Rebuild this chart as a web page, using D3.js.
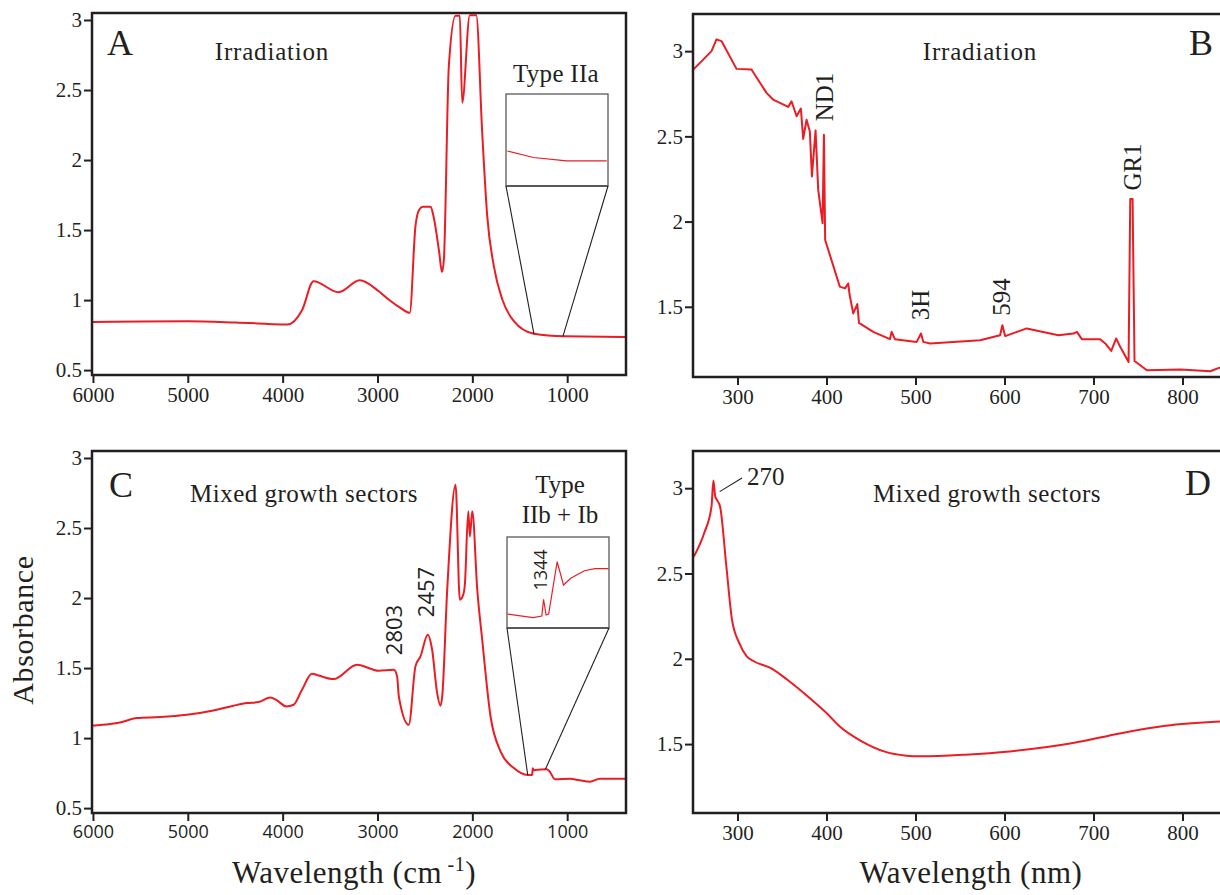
<!DOCTYPE html>
<html>
<head>
<meta charset="utf-8">
<script src="https://cdn.jsdelivr.net/npm/d3@7"></script>
<style>
body { margin: 0; background: #fff; }
svg text { fill: #231f20; }
</style>
</head>
<body>
<svg id="fig" width="1220" height="895"></svg>
<script>
// ---- data ----
// A: irradiated type IIa, IR
let aWavenumber = [6010, 5500, 5000, 4500, 4000, 3950, 3796, 3674, 3410, 3188, 2987, 2882, 2758, 2660,
    2600, 2560, 2520, 2440, 2410, 2350, 2320, 2300, 2248, 2177, 2132, 2107, 2027, 1959, 1896, 1843,
    1773, 1684, 1562, 1350, 1034, 390];
let aAbsorbance = [0.844, 0.847, 0.849, 0.84, 0.826, 0.825, 0.927, 1.134, 1.056, 1.141, 1.063, 1.004, 0.944, 0.909,
    1.527, 1.645, 1.666, 1.666, 1.6, 1.345, 1.2, 1.29, 2.67, 3.03, 3.03, 2.409, 3.034, 3.034, 2.194, 1.599,
    1.241, 1.004, 0.849, 0.759, 0.741, 0.737];
let aInsetWavenumber = [1346, 1264, 1160, 1034];
let aInsetAbsorbance = [0.7414, 0.7393, 0.7382, 0.7382];

// B: irradiated, UV-Vis
let bWavelength = [250, 259.5, 270.8, 276.4, 282, 298.9, 315.7, 332.6, 340, 357, 360.7, 366.4, 371.2, 373.8,
    377.6, 381.3, 383.6, 387.7, 390.7, 395.6, 397.1, 398.5, 415, 420.7, 424.4, 426, 430, 434.6, 436.5,
    452.5, 471.3, 473.2, 476.9, 501.3, 506.2, 508.8, 516.3, 572.6, 595, 597.6, 600.7, 625, 660.6, 677.5,
    681.3, 686.9, 707.5, 713.2, 719.9, 725.5, 730, 739.4, 741.3, 743.9, 746.1, 760, 797.6, 831.3, 850];
let bAbsorbance = [2.89, 2.94, 3.0, 3.069, 3.059, 2.896, 2.892, 2.755, 2.716, 2.673, 2.706, 2.618, 2.663, 2.485,
    2.598, 2.529, 2.265, 2.535, 2.186, 1.99, 2.51, 1.892, 1.618, 1.608, 1.637, 1.569, 1.461, 1.516, 1.406,
    1.353, 1.31, 1.353, 1.31, 1.294, 1.343, 1.294, 1.285, 1.304, 1.333, 1.392, 1.328, 1.373, 1.333, 1.343,
    1.353, 1.31, 1.31, 1.285, 1.241, 1.314, 1.265, 1.176, 2.132, 2.132, 1.182, 1.128, 1.132, 1.122, 1.16];

// C: mixed growth sectors, IR
let cWavenumber = [6014, 5820, 5715, 5539, 5293, 5011, 4730, 4519, 4377, 4254, 4131, 4060, 3962, 3885, 3796,
    3691, 3621, 3463, 3215, 2987, 2828, 2793, 2775, 2670, 2600, 2547, 2470, 2424, 2371, 2336, 2318, 2265,
    2177, 2132, 2096, 2079, 2043, 2026, 2001, 1948, 1896, 1808, 1702, 1562, 1416, 1370, 1363, 1350, 1339,
    1216, 1189, 1129, 970, 870, 760, 654, 390];
let cAbsorbance = [1.088, 1.1, 1.111, 1.143, 1.15, 1.166, 1.197, 1.231, 1.25, 1.257, 1.29, 1.269, 1.226, 1.238, 1.345,
    1.459, 1.447, 1.421, 1.524, 1.481, 1.488, 1.44, 1.297, 1.095, 1.512, 1.583, 1.738, 1.631, 1.321, 1.231, 1.295, 2.059,
    2.809, 1.988, 2.024, 2.095, 2.619, 2.44, 2.619, 2.059, 1.702, 1.154, 0.904, 0.786, 0.736, 0.736, 0.784, 0.77, 0.772,
    0.777, 0.765, 0.706, 0.709, 0.699, 0.689, 0.71, 0.71];
let cInsetWavenumber = [1419, 1359, 1338, 1334, 1328, 1322, 1302, 1287, 1270, 1238, 1213, 1181];
let cInsetAbsorbance = [0.7265, 0.7235, 0.7249, 0.7387, 0.7257, 0.7265, 0.7696, 0.7504, 0.756, 0.7622, 0.7639, 0.7639];

// D: mixed growth sectors, UV-Vis
let dWavelength = [251, 262.5, 270.8, 272.9, 275, 277, 280.4, 287.5, 293.8, 302, 310.4, 318.8, 337.5, 356, 381,
    402, 414.6, 439.6, 464.6, 489.6, 506, 556, 606, 677, 731, 781, 850];
let dAbsorbance = [2.6, 2.736, 2.893, 3.045, 2.951, 2.93, 2.893, 2.541, 2.229, 2.092, 2.014, 1.984, 1.945, 1.877, 1.77,
    1.672, 1.604, 1.516, 1.457, 1.432, 1.428, 1.438, 1.457, 1.506, 1.564, 1.607, 1.634];

let irTicks = [6000, 5000, 4000, 3000, 2000, 1000];
let nmTicks = [300, 400, 500, 600, 700, 800];
let irAbsTicks = [0.5, 1, 1.5, 2, 2.5, 3];
let uvAbsTicks = [1.5, 2, 2.5, 3];

const SERIF = '"Liberation Serif", "Times New Roman", serif',
      SANS = '"Open Sans", "Noto Sans", sans-serif',
      INK = '#231f20',
      RED = '#ea1c24';

let svg = d3.select('#fig');

function zip(xs, ys) {
    return xs.map((d, i) => ({ x: d, y: ys[i] }));
}

function panel(o) {
    let x = d3.scaleLinear().domain(o.xDomain).range([o.left, o.right]);
    let y = d3.scaleLinear().domain(o.yDomain).range([o.bottom, o.top]);
    let g = svg.append('g');

    let xAxis = g.append('g')
	.attr('transform', 'translate(0,' + o.bottom + ')')
	.call(d3.axisBottom(x).tickValues(o.xTicks).tickSize(8).tickPadding(4).tickFormat(d3.format('d')));
    xAxis.attr('font-family', null);
    xAxis.selectAll('text')
	.style('font-family', o.xFont)
	.style('font-size', o.xFontSize + 'px');

    let yAxis = g.append('g')
	.attr('transform', 'translate(' + o.left + ',0)')
	.call(d3.axisLeft(y).tickValues(o.yTicks).tickSize(8).tickPadding(2).tickFormat((d) => String(d)));
    yAxis.attr('font-family', null);
    yAxis.selectAll('text')
	.style('font-family', SERIF)
	.style('font-size', '21px');

    g.selectAll('.domain').remove();
    g.selectAll('.tick line').attr('stroke', INK).attr('stroke-width', 2);
    g.selectAll('.tick text').style('fill', INK);

    let clipId = 'clip' + o.name;
    g.append('clipPath').attr('id', clipId)
	.append('rect')
	.attr('x', o.left).attr('y', o.top)
	.attr('width', o.right - o.left).attr('height', o.bottom - o.top);

    let line = d3.line()
	.x((d) => x(d.x))
	.y((d) => y(d.y))
	.curve(o.curve || d3.curveLinear);

    g.append('path')
	.datum(o.data)
	.attr('clip-path', 'url(#' + clipId + ')')
	.attr('fill', 'none')
	.attr('stroke', RED)
	.attr('stroke-width', 2)
	.attr('stroke-linejoin', 'round')
	.attr('d', line);

    g.append('rect')
	.attr('x', o.left).attr('y', o.top)
	.attr('width', o.right - o.left).attr('height', o.bottom - o.top)
	.attr('fill', 'none')
	.attr('stroke', INK)
	.attr('stroke-width', 2.5);

    return { g: g, x: x, y: y };
}

function label(g, txt, px, py, size, opts) {
    opts = opts || {};
    let t = g.append('text')
	.attr('font-family', opts.font || SERIF)
	.attr('font-size', size)
	.attr('text-anchor', opts.anchor || 'middle')
	.attr('letter-spacing', opts.spacing || 0)
	.text(txt);
    if (opts.rotate) {
	t.attr('dominant-baseline', 'central')
	    .attr('transform', 'translate(' + px + ',' + py + ') rotate(-90)');
    } else {
	t.attr('x', px).attr('y', py);
    }
    return t;
}

// inset: magnified box plus two leader lines down to the main curve
function inset(p, box, xDom, yDom, data, from, to) {
    let ix = d3.scaleLinear().domain(xDom).range([box.x0, box.x1]);
    let iy = d3.scaleLinear().domain(yDom).range([box.y1, box.y0]);
    let g = p.g.append('g');
    g.append('rect')
	.attr('x', box.x0).attr('y', box.y0)
	.attr('width', box.x1 - box.x0).attr('height', box.y1 - box.y0)
	.attr('fill', '#fff').attr('stroke', '#58595b').attr('stroke-width', 1.3);
    g.append('line')
	.attr('x1', box.x0).attr('x2', box.x1).attr('y1', box.y1).attr('y2', box.y1)
	.attr('stroke', '#58595b').attr('stroke-width', 2);
    g.append('path')
	.datum(data)
	.attr('fill', 'none').attr('stroke', RED).attr('stroke-width', 1.2)
	.attr('d', d3.line().x((d) => ix(d.x)).y((d) => iy(d.y)));
    [[box.x0, from], [box.x1, to]].forEach(function(l) {
	g.append('line')
	    .attr('x1', l[0]).attr('y1', box.y1)
	    .attr('x2', p.x(l[1].x)).attr('y2', p.y(l[1].y))
	    .attr('stroke', INK).attr('stroke-width', 1.1);
    });
    return g;
}

// ---- panel A ----
let pA = panel({
    name: 'A', left: 92, right: 626, top: 13, bottom: 375,
    xDomain: [6010, 380], yDomain: [0.465, 3.05],
    xTicks: irTicks, yTicks: irAbsTicks, xFont: SERIF, xFontSize: 21,
    data: zip(aWavenumber, aAbsorbance), curve: d3.curveMonotoneX
});
label(pA.g, 'A', 120, 55, 36);
label(pA.g, 'Irradiation', 272, 60, 25, { spacing: 0.8 });
label(pA.g, 'Type IIa', 556, 82, 25, { spacing: 0.3 });
inset(pA, { x0: 506, x1: 608, y0: 94, y1: 186 }, [1350, 1030], [0.73, 0.76],
      zip(aInsetWavenumber, aInsetAbsorbance), { x: 1350, y: 0.757 }, { x: 1045, y: 0.741 });

// ---- panel B ----
let pB = panel({
    name: 'B', left: 693, right: 1227, top: 14, bottom: 377,
    xDomain: [250, 850], yDomain: [1.088, 3.218],
    xTicks: nmTicks, yTicks: uvAbsTicks, xFont: SERIF, xFontSize: 21,
    data: zip(bWavelength, bAbsorbance)
});
label(pB.g, 'B', 1201, 55, 36);
label(pB.g, 'Irradiation', 980, 60, 25, { spacing: 0.8 });
label(pB.g, 'ND1', 824, 97, 25, { rotate: true });
label(pB.g, '3H', 920, 305, 25, { rotate: true });
label(pB.g, '594', 1001, 297, 25, { rotate: true });
label(pB.g, 'GR1', 1132, 167, 25, { rotate: true });

// ---- panel C ----
let pC = panel({
    name: 'C', left: 92, right: 626, top: 451, bottom: 813,
    xDomain: [6010, 380], yDomain: [0.465, 3.05],
    xTicks: irTicks, yTicks: irAbsTicks, xFont: SANS, xFontSize: 18,
    data: zip(cWavenumber, cAbsorbance), curve: d3.curveMonotoneX
});
label(pC.g, 'C', 121, 497, 36);
label(pC.g, 'Mixed growth sectors', 304, 502, 25, { spacing: 0.5 });
label(pC.g, '2803', 393, 630, 22, { rotate: true, font: SANS });
label(pC.g, '2457', 425, 592, 22, { rotate: true, font: SANS });
label(pC.g, 'Type', 560, 493, 25);
label(pC.g, 'IIb + Ib', 560, 523, 25);
let insC = inset(pC, { x0: 507, x1: 609, y0: 537, y1: 628 }, [1420, 1180], [0.715, 0.79],
      zip(cInsetWavenumber, cInsetAbsorbance), { x: 1416, y: 0.736 }, { x: 1230, y: 0.777 });
label(insC, '1344', 540, 570, 18, { rotate: true, font: SANS });

// ---- panel D ----
let pD = panel({
    name: 'D', left: 693, right: 1227, top: 451, bottom: 813,
    xDomain: [250, 850], yDomain: [1.096, 3.218],
    xTicks: nmTicks, yTicks: uvAbsTicks, xFont: SERIF, xFontSize: 21,
    data: zip(dWavelength, dAbsorbance), curve: d3.curveMonotoneX
});
label(pD.g, 'D', 1198, 495, 36);
label(pD.g, 'Mixed growth sectors', 987, 502, 25, { spacing: 0.5 });
label(pD.g, '270', 747, 485, 25, { anchor: 'start' });
pD.g.append('line')
    .attr('x1', pD.x(280)).attr('y1', pD.y(2.98))
    .attr('x2', 742).attr('y2', 478)
    .attr('stroke', INK).attr('stroke-width', 1.1);

// ---- shared axis titles ----
label(svg, 'Absorbance', 22, 630, 30, { rotate: true, spacing: 0.6 });
let wl = svg.append('text')
    .attr('x', 354).attr('y', 883)
    .attr('text-anchor', 'middle')
    .attr('font-family', SERIF).attr('font-size', 31)
    .attr('letter-spacing', 0.5);
wl.append('tspan').text('Wavelength (cm');
wl.append('tspan').attr('dy', -12).attr('font-size', 20).text(' -1');
wl.append('tspan').attr('dy', 12).text(')');
label(svg, 'Wavelength (nm)', 971, 883, 31, { spacing: 0.5 });
</script>
</body>
</html>
